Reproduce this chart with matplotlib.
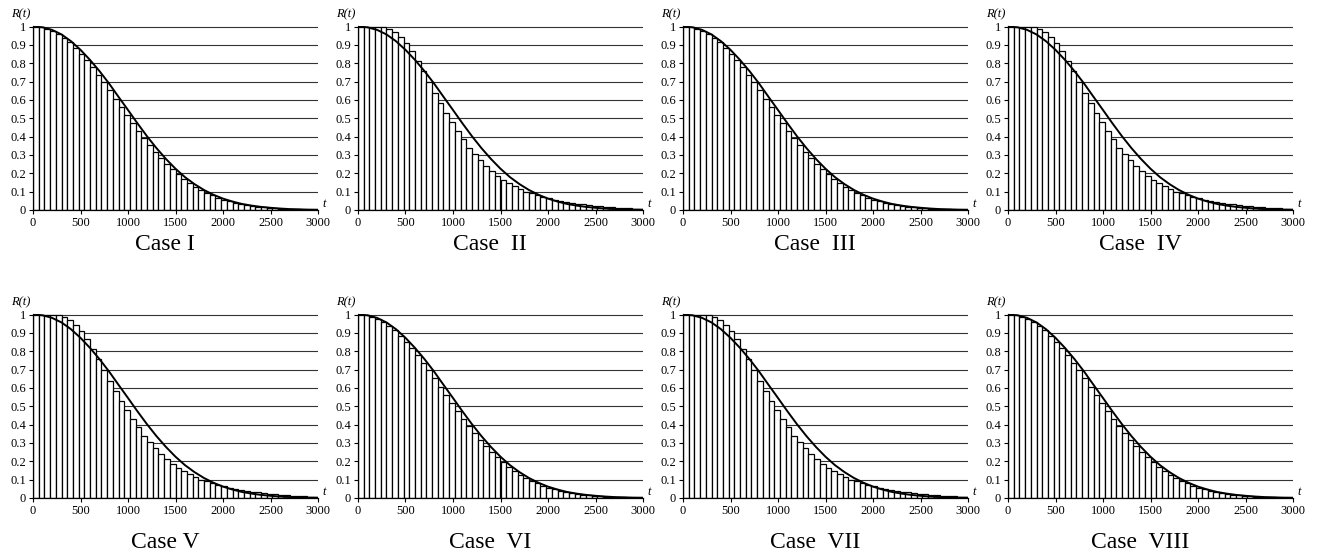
import numpy as np
import matplotlib
matplotlib.use('Agg')
from matplotlib import pyplot as plt

plt.rcParams['font.family'] = ['Liberation Serif', 'DejaVu Serif']

# smooth reliability curve R(t), read every 100 h
curve_t = np.arange(0, 3001, 100)
curve_r = [1.000, 0.996, 0.982, 0.957, 0.920, 0.873, 0.818, 0.757, 0.690, 0.617,
           0.545, 0.472, 0.402, 0.337, 0.278, 0.225, 0.179, 0.141, 0.109, 0.083,
           0.062, 0.046, 0.033, 0.024, 0.017, 0.012, 0.008, 0.005, 0.0035, 0.002,
           0.0015]

# bar heights, one bar per 60 h interval (50 bars)
bar_width = 60
bars_close = [1.0, 0.997, 0.988, 0.975, 0.96, 0.94, 0.915, 0.885, 0.853, 0.817,
              0.778, 0.738, 0.696, 0.652, 0.607, 0.563, 0.518, 0.475, 0.433, 0.392,
              0.354, 0.318, 0.284, 0.252, 0.222, 0.195, 0.17, 0.148, 0.128, 0.11,
              0.094, 0.08, 0.068, 0.057, 0.048, 0.04, 0.033, 0.027, 0.022, 0.018,
              0.014, 0.011, 0.009, 0.007, 0.005, 0.004, 0.003, 0.002, 0.002, 0.001]
bars_early = [1.0, 1.0, 1.0, 1.0, 0.998, 0.985, 0.97, 0.945, 0.91, 0.865,
              0.81, 0.76, 0.70, 0.64, 0.585, 0.53, 0.48, 0.43, 0.385, 0.34,
              0.305, 0.27, 0.24, 0.21, 0.185, 0.165, 0.145, 0.13, 0.115, 0.10,
              0.09, 0.08, 0.072, 0.064, 0.056, 0.05, 0.044, 0.039, 0.034, 0.03,
              0.026, 0.023, 0.02, 0.017, 0.015, 0.013, 0.011, 0.009, 0.008, 0.007]

case_labels = ['Case I', 'Case  II', 'Case  III', 'Case  IV',
               'Case V', 'Case  VI', 'Case  VII', 'Case  VIII']
case_bars = [bars_close, bars_early, bars_close, bars_early,
             bars_early, bars_close, bars_early, bars_close]

W, H = 1318, 558
fig = plt.figure(figsize=(W / 100, H / 100), dpi=100)

lefts = [33, 358, 683, 1008]
bottoms = [210, 498]   # pixel row of y=0
ax_w, ax_h = 285, 184
label_y = [245, 543]

bar_x = np.arange(len(bars_close)) * bar_width

for i, (label, heights) in enumerate(zip(case_labels, case_bars)):
    row, col = divmod(i, 4)
    x0 = lefts[col]
    y0 = bottoms[row]
    ax = fig.add_axes([x0 / W, (H - y0) / H, ax_w / W, ax_h / H])
    ax.bar(bar_x, heights, width=bar_width, align='edge',
           color='white', edgecolor='black', linewidth=0.9, zorder=2)
    ax.plot(curve_t, curve_r, color='black', linewidth=1.4, zorder=3)
    ax.set_axisbelow(True)
    ax.set_xlim(0, 3000)
    ax.set_ylim(0, 1.003)
    ax.set_xticks(np.arange(0, 3001, 500))
    ax.set_yticks(np.arange(0, 1.01, 0.1))
    ax.set_yticklabels(['0', '0.1', '0.2', '0.3', '0.4', '0.5', '0.6',
                        '0.7', '0.8', '0.9', '1'])
    ax.tick_params(labelsize=9, length=3, width=0.8, pad=2, colors='black')
    ax.grid(axis='y', color='#333333', linewidth=0.8)
    for s in ['top', 'right']:
        ax.spines[s].set_visible(False)
    for s in ['left', 'bottom']:
        ax.spines[s].set_linewidth(0.9)
    ax.text(-0.01, 1.03, 'R(t)', transform=ax.transAxes, fontsize=9,
            style='italic', ha='right', va='bottom')
    ax.text(1.015, 0.0, 't', transform=ax.transAxes, fontsize=9,
            style='italic', ha='left', va='bottom')
    fig.text((x0 + 132) / W, (H - label_y[row]) / H, label,
             fontsize=17, ha='center', va='center')

fig.savefig('out.png', dpi=100)
